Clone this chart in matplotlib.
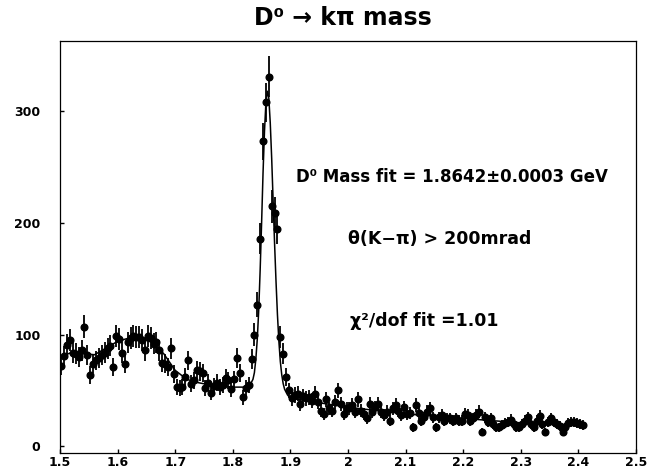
import matplotlib
matplotlib.use('Agg')
import matplotlib.pyplot as plt
import numpy as np

# histogram: 5 MeV bins starting at 1.5 GeV
mass_lo = 1.5
bin_width = 0.005
counts = [72, 81, 91, 95, 84, 83, 80, 86, 107, 82, 64, 74, 77, 79, 82, 84, 88, 90,
          71, 99, 96, 84, 74, 93, 97, 99, 98, 98, 95, 86, 99, 97, 92, 93, 86, 75,
          74, 71, 88, 65, 53, 52, 53, 62, 77, 56, 59, 68, 67, 66, 52, 57, 48, 54,
          57, 53, 55, 61, 59, 51, 60, 79, 66, 44, 52, 55,
          78, 100, 127, 186, 273, 308, 331, 215, 209, 195, 98, 83, 62,
          50, 43, 46, 47, 38, 45, 43, 44, 41, 47, 40, 32, 29, 42, 34, 32, 40, 50,
          38, 29, 34, 34, 37, 31, 42, 32, 29, 25, 38, 31, 35, 38,
          31, 28, 31, 23, 34, 37, 32, 28, 35, 29, 30, 17, 37, 30, 23, 26, 31, 34,
          26, 17, 26, 28, 23, 25, 25, 23, 25, 23, 23, 29, 28, 23, 25, 28, 31, 13, 26,
          22, 25, 20, 17, 17, 19, 21, 22, 24, 20, 17, 17, 20, 23, 26, 20, 17, 23,
          27, 20, 13, 22, 25, 22, 20, 18, 13, 17, 21, 22, 22, 21, 20, 19]

# fitted curve
fit_mass = [1.50, 1.52, 1.54, 1.56, 1.58, 1.60, 1.62, 1.64, 1.66, 1.68, 1.70, 1.72,
            1.74, 1.76, 1.78, 1.80, 1.82, 1.83, 1.835, 1.8375, 1.84, 1.8425, 1.845,
            1.8475, 1.85, 1.8525, 1.855, 1.8575, 1.86, 1.8625, 1.865, 1.8675, 1.87,
            1.8725, 1.875, 1.8775, 1.88, 1.8825, 1.885, 1.8875, 1.89, 1.895, 1.90,
            1.95, 2.00, 2.05, 2.10, 2.15, 2.20, 2.25, 2.30, 2.35, 2.41]
fit_vals = [80, 84, 83, 82, 88, 94, 97, 97, 93, 83, 68, 60,
            57, 55, 54, 53, 53, 55, 60, 66, 78, 96, 122,
            158, 200, 245, 282, 308, 318, 312, 290, 258, 220,
            182, 148, 118, 94, 76, 64, 56, 51, 46, 43,
            39, 35, 32, 29, 27, 25, 23, 21, 20, 19]

xticks = [1.5, 1.6, 1.7, 1.8, 1.9, 2.0, 2.1, 2.2, 2.3, 2.4, 2.5]
xticklabels = ['1.5', '1.6', '1.7', '1.8', '1.9', '2', '2.1', '2.2', '2.3', '2.4', '2.5']
yticks = [0, 100, 200, 300]

plt.rcParams['font.family'] = 'DejaVu Sans'
plt.rcParams['font.weight'] = 'bold'

fig = plt.figure(figsize=(6.48, 4.68), dpi=100)
ax = fig.add_axes([60 / 648, 15 / 468, 576 / 648, 412 / 468])

counts = np.array(counts, dtype=float)
centers = mass_lo + bin_width * (np.arange(len(counts)) + 0.5)

ax.plot(fit_mass, fit_vals, color='black', linewidth=1.1, zorder=2)
ax.errorbar(centers, counts, yerr=np.sqrt(counts), fmt='o', color='black',
            markersize=4.8, elinewidth=1.3, capsize=0, zorder=3)

ax.set_xlim(1.5, 2.5)
ax.set_ylim(-6, 363)
ax.set_xticks(xticks)
ax.set_xticklabels(xticklabels)
ax.set_yticks(yticks)
ax.tick_params(direction='in', length=3, width=1, labelsize=9)
ax.tick_params(axis='x', pad=2)
ax.tick_params(axis='y', pad=14)
for lab in ax.get_xticklabels() + ax.get_yticklabels():
    lab.set_fontweight('bold')
for sp in ax.spines.values():
    sp.set_linewidth(0.9)

ax.text(1.91, 241, 'D⁰ Mass fit = 1.8642±0.0003 GeV', fontsize=12,
        fontweight='bold', ha='left', va='center')
ax.text(2.0, 186, 'θ(K−π) > 200mrad', fontsize=12.5,
        fontweight='bold', ha='left', va='center')
ax.text(2.003, 112, 'χ²/dof fit =1.01', fontsize=12.5,
        fontweight='bold', ha='left', va='center')

fig.text(0.529, 0.962, 'D⁰ → kπ mass', fontsize=17, fontweight='bold',
         ha='center', va='center')

plt.savefig('out.png', dpi=100)
plt.close()
